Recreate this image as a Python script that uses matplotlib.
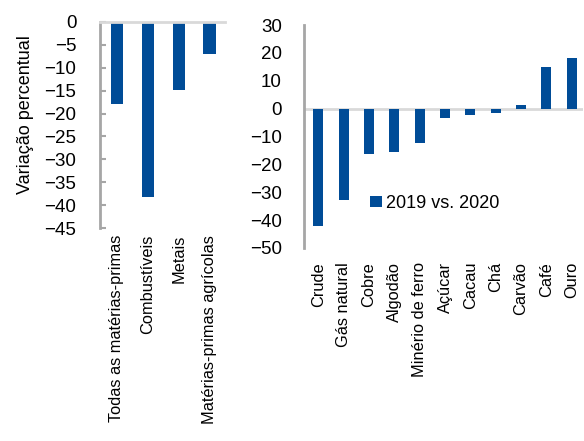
import matplotlib
matplotlib.use("Agg")
import matplotlib.pyplot as plt
import numpy as np

plt.rcParams['font.family'] = ['Liberation Sans', 'DejaVu Sans']

left_cats = ["Todas as matérias-primas", "Combustíveis", "Metais", "Matérias-primas agrícolas"]
left_vals = [-18, -38.2, -14.9, -6.9]

right_cats = ["Crude", "Gás natural", "Cobre", "Algodão", "Minério de ferro", "Açúcar",
              "Cacau", "Chá", "Carvão", "Café", "Ouro"]
right_vals = [-42, -32.7, -16.2, -15.6, -12.3, -3.3, -2.2, -1.7, 1.2, 15.1, 18]

left_yticks = list(range(0, -50, -5))
right_yticks = list(range(30, -60, -10))
legend_label = "2019 vs. 2020"
ylabel = "Variação percentual"

BLUE = "#004C97"
SPINE = "#a6a6a6"
ZERO = "#d9d9d9"

fig = plt.figure(figsize=(5.84, 4.41), dpi=100)

# Left panel
ax1 = fig.add_axes([100/584, 1-228/441, 125/584, 206/441])
x1 = np.arange(len(left_cats))
ax1.bar(x1, left_vals, width=0.4, color=BLUE, zorder=2)
ax1.set_xlim(-0.55, 3.5)
ax1.set_ylim(-45, 0)
ax1.set_yticks(left_yticks)
ax1.set_xticks(x1)
ax1.set_xticklabels(left_cats, rotation=90, fontsize=11.8, va='top', ha='center')
ax1.tick_params(axis='x', length=0, pad=5)
ax1.tick_params(axis='y', direction='in', length=4, width=1.5, color=SPINE, labelsize=13.5, pad=17)
for s in ['right', 'bottom']:
    ax1.spines[s].set_visible(False)
ax1.spines['left'].set_color(SPINE)
ax1.spines['left'].set_linewidth(2)
ax1.spines['top'].set_color(ZERO)
ax1.spines['top'].set_linewidth(2)
ax1.set_ylabel(ylabel, fontsize=13)
ax1.yaxis.set_label_coords(-(100-34)/125, 0.55)

# Right panel
ax2 = fig.add_axes([304/584, 1-248/441, 279/584, 223/441])
x2 = np.arange(len(right_cats))
ax2.bar(x2, right_vals, width=0.4, color=BLUE, zorder=2, label=legend_label)
ax2.set_xlim(-0.57, 10.45)
ax2.set_ylim(-50, 30)
ax2.set_yticks(right_yticks)
ax2.set_xticks(x2)
ax2.set_xticklabels(right_cats, rotation=90, fontsize=11.8, va='top', ha='center')
ax2.tick_params(axis='x', length=0, pad=10)
ax2.tick_params(axis='y', length=0, labelsize=13.5, pad=16)
for s in ['right', 'bottom', 'top']:
    ax2.spines[s].set_visible(False)
ax2.spines['left'].set_color(SPINE)
ax2.spines['left'].set_linewidth(2)
ax2.axhline(0, color=ZERO, lw=2, zorder=1)
ax2.legend(loc='center left', bbox_to_anchor=(0.235, 0.2), frameon=False,
           fontsize=13, handlelength=0.7, handleheight=0.6, handletextpad=0.2,
           borderpad=0, borderaxespad=0)

fig.savefig("out.png", dpi=100)
